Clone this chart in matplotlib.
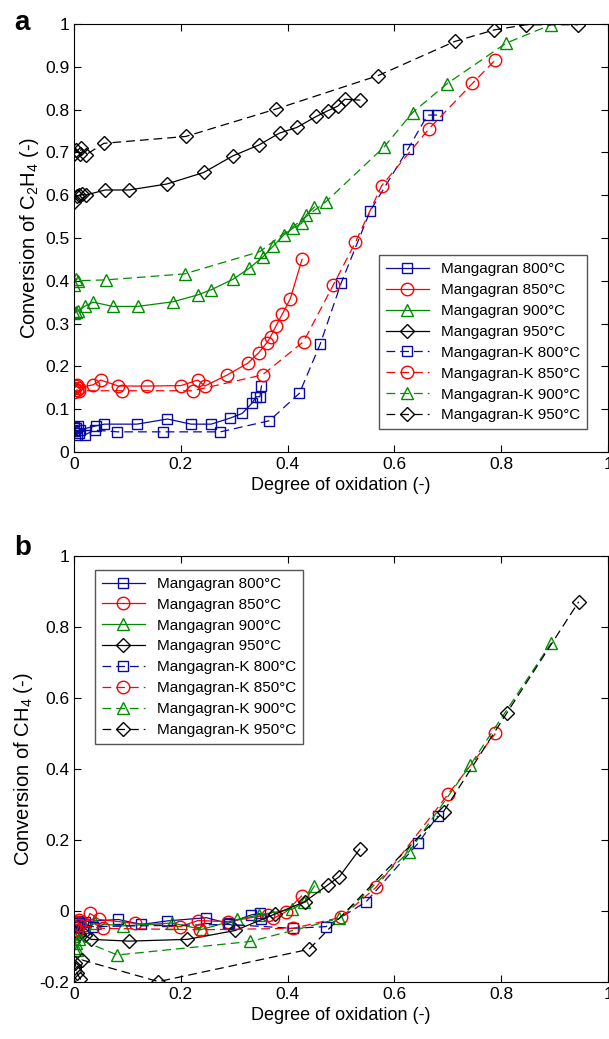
import matplotlib
matplotlib.use('Agg')
import matplotlib.pyplot as plt

plt.rcParams['font.family'] = ['Liberation Sans', 'DejaVu Sans']
plt.rcParams['mathtext.fontset'] = 'custom'
plt.rcParams['mathtext.rm'] = 'Liberation Sans'
plt.rcParams['mathtext.it'] = 'Liberation Sans'

# ---- panel a : conversion of C2H4 ----
a_m800_x = [0.0, 0.004, 0.008, 0.012, 0.041, 0.057, 0.118, 0.175, 0.219, 0.257, 0.292, 0.315, 0.334, 0.341, 0.348, 0.351]
a_m800_y = [0.059, 0.055, 0.06, 0.052, 0.061, 0.065, 0.065, 0.077, 0.065, 0.065, 0.079, 0.090, 0.115, 0.129, 0.129, 0.154]
a_m850_x = [0.0, 0.003, 0.006, 0.01, 0.036, 0.050, 0.083, 0.137, 0.200, 0.232, 0.245, 0.287, 0.325, 0.346, 0.361, 0.368, 0.378, 0.390, 0.405, 0.427]
a_m850_y = [0.15, 0.155, 0.157, 0.15, 0.157, 0.168, 0.154, 0.154, 0.155, 0.168, 0.154, 0.180, 0.207, 0.232, 0.255, 0.269, 0.294, 0.322, 0.358, 0.450]
a_m900_x = [0.0, 0.004, 0.008, 0.021, 0.036, 0.073, 0.119, 0.186, 0.232, 0.257, 0.297, 0.328, 0.354, 0.373, 0.393, 0.410, 0.426, 0.435, 0.450]
a_m900_y = [0.325, 0.328, 0.33, 0.341, 0.35, 0.34, 0.34, 0.351, 0.367, 0.379, 0.403, 0.429, 0.456, 0.481, 0.507, 0.523, 0.534, 0.554, 0.572]
a_m950_x = [0.0, 0.005, 0.01, 0.015, 0.022, 0.058, 0.103, 0.174, 0.243, 0.298, 0.346, 0.385, 0.417, 0.454, 0.475, 0.494, 0.507, 0.535]
a_m950_y = [0.585, 0.597, 0.600, 0.602, 0.600, 0.612, 0.612, 0.626, 0.653, 0.692, 0.717, 0.745, 0.758, 0.784, 0.797, 0.808, 0.824, 0.822]
a_k800_x = [0.0, 0.005, 0.01, 0.02, 0.039, 0.081, 0.167, 0.274, 0.366, 0.422, 0.461, 0.500, 0.555, 0.625, 0.662, 0.680]
a_k800_y = [0.05, 0.04, 0.045, 0.04, 0.051, 0.047, 0.047, 0.047, 0.073, 0.137, 0.252, 0.394, 0.564, 0.707, 0.787, 0.787]
a_k850_x = [0.0, 0.005, 0.01, 0.089, 0.222, 0.353, 0.430, 0.485, 0.527, 0.576, 0.664, 0.746, 0.789]
a_k850_y = [0.14, 0.145, 0.143, 0.143, 0.143, 0.180, 0.258, 0.389, 0.490, 0.622, 0.754, 0.861, 0.916]
a_k900_x = [0.0, 0.003, 0.008, 0.06, 0.207, 0.348, 0.472, 0.581, 0.634, 0.698, 0.809, 0.893]
a_k900_y = [0.39, 0.405, 0.40, 0.402, 0.416, 0.468, 0.585, 0.713, 0.793, 0.860, 0.955, 0.998]
a_k950_x = [0.0, 0.003, 0.011, 0.014, 0.022, 0.056, 0.209, 0.378, 0.569, 0.713, 0.787, 0.846, 0.944]
a_k950_y = [0.696, 0.706, 0.696, 0.71, 0.694, 0.721, 0.737, 0.801, 0.879, 0.959, 0.986, 0.998, 0.998]

# ---- panel b : conversion of CH4 ----
b_m800_x = [0.0, 0.005, 0.01, 0.02, 0.083, 0.126, 0.175, 0.248, 0.288, 0.332, 0.348, 0.351]
b_m800_y = [-0.03, -0.028, -0.032, -0.03, -0.024, -0.038, -0.028, -0.019, -0.035, -0.011, -0.007, -0.024]
b_m850_x = [0.0, 0.005, 0.01, 0.02, 0.03, 0.047, 0.114, 0.199, 0.232, 0.288, 0.363, 0.373, 0.397, 0.426]
b_m850_y = [-0.035, -0.03, -0.025, -0.04, -0.007, -0.024, -0.035, -0.044, -0.027, -0.030, -0.011, -0.021, -0.002, 0.042]
b_m900_x = [0.0, 0.005, 0.01, 0.02, 0.04, 0.091, 0.184, 0.239, 0.306, 0.347, 0.409, 0.431, 0.450]
b_m900_y = [-0.07, -0.06, -0.055, -0.045, -0.035, -0.042, -0.034, -0.052, -0.024, -0.011, 0.005, 0.025, 0.07]
b_m950_x = [0.0, 0.01, 0.021, 0.032, 0.103, 0.212, 0.302, 0.376, 0.432, 0.475, 0.497, 0.535]
b_m950_y = [-0.06, -0.065, -0.068, -0.08, -0.085, -0.080, -0.055, -0.009, 0.026, 0.073, 0.097, 0.174]
b_k800_x = [0.0, 0.005, 0.01, 0.036, 0.290, 0.410, 0.472, 0.547, 0.645, 0.681]
b_k800_y = [-0.04, -0.045, -0.035, -0.044, -0.038, -0.049, -0.044, 0.026, 0.192, 0.268]
b_k850_x = [0.0, 0.005, 0.01, 0.055, 0.236, 0.410, 0.500, 0.566, 0.701, 0.789]
b_k850_y = [-0.045, -0.055, -0.04, -0.049, -0.053, -0.049, -0.018, 0.067, 0.330, 0.500]
b_k900_x = [0.0, 0.003, 0.006, 0.01, 0.081, 0.330, 0.497, 0.627, 0.742, 0.893]
b_k900_y = [-0.105, -0.09, -0.11, -0.08, -0.124, -0.086, -0.021, 0.167, 0.411, 0.754]
b_k950_x = [0.0, 0.002, 0.006, 0.012, 0.015, 0.158, 0.440, 0.692, 0.811, 0.945]
b_k950_y = [-0.161, -0.147, -0.176, -0.192, -0.138, -0.199, -0.108, 0.28, 0.559, 0.871]

labels = ['Mangagran 800°C', 'Mangagran 850°C', 'Mangagran 900°C', 'Mangagran 950°C',
          'Mangagran-K 800°C', 'Mangagran-K 850°C', 'Mangagran-K 900°C', 'Mangagran-K 950°C']
colors = ['#0a0aa5', '#ff0000', '#008c00', '#000000']
markers = ['s', 'o', '^', 'D']
msizes = [6.5, 9, 9, 7.5]

a_series = [(a_m800_x, a_m800_y), (a_m850_x, a_m850_y), (a_m900_x, a_m900_y), (a_m950_x, a_m950_y),
            (a_k800_x, a_k800_y), (a_k850_x, a_k850_y), (a_k900_x, a_k900_y), (a_k950_x, a_k950_y)]
b_series = [(b_m800_x, b_m800_y), (b_m850_x, b_m850_y), (b_m900_x, b_m900_y), (b_m950_x, b_m950_y),
            (b_k800_x, b_k800_y), (b_k850_x, b_k850_y), (b_k900_x, b_k900_y), (b_k950_x, b_k950_y)]


def draw(ax, series):
    for i, (xs, ys) in enumerate(series):
        j = i % 4
        ls = '-' if i < 4 else (0, (7, 4))
        ax.plot(xs, ys, linestyle=ls, color=colors[j], marker=markers[j], markersize=msizes[j],
                markerfacecolor='none', markeredgecolor=colors[j], markeredgewidth=1.0,
                linewidth=0.9, label=labels[i])
    ax.set_xlim(0, 1)
    ax.tick_params(direction='in', top=True, right=True, labelsize=12.5, length=5, width=0.8)
    ax.set_xticks([0, 0.2, 0.4, 0.6, 0.8, 1])
    ax.set_xticklabels(['0', '0.2', '0.4', '0.6', '0.8', '1'])
    for s in ax.spines.values():
        s.set_linewidth(0.8)
    ax.set_xlabel('Degree of oxidation (-)', fontsize=13, labelpad=4)


fig = plt.figure(figsize=(6.09, 10.39), dpi=100)

ax1 = fig.add_axes([0.1215, 0.565, 0.877, 0.412])
draw(ax1, a_series)
ax1.set_ylim(0, 1)
ax1.set_yticks([0, 0.1, 0.2, 0.3, 0.4, 0.5, 0.6, 0.7, 0.8, 0.9, 1])
ax1.set_yticklabels(['0', '0.1', '0.2', '0.3', '0.4', '0.5', '0.6', '0.7', '0.8', '0.9', '1'])
ax1.set_ylabel('Conversion of C$_2$H$_4$ (-)', fontsize=14.5, labelpad=3)
ax1.legend(loc='lower right', bbox_to_anchor=(0.975, 0.035), fontsize=11, frameon=True, fancybox=False,
           edgecolor='#555555', framealpha=1, handlelength=2.8, borderpad=0.45, labelspacing=0.45)

ax2 = fig.add_axes([0.1215, 0.0549, 0.877, 0.41])
draw(ax2, b_series)
ax2.set_ylim(-0.2, 1)
ax2.set_yticks([-0.2, 0, 0.2, 0.4, 0.6, 0.8, 1])
ax2.set_yticklabels(['-0.2', '0', '0.2', '0.4', '0.6', '0.8', '1'])
ax2.set_ylabel('Conversion of CH$_4$ (-)', fontsize=14.5, labelpad=3)
ax2.legend(loc='upper left', bbox_to_anchor=(0.025, 0.985), fontsize=11, frameon=True, fancybox=False,
           edgecolor='#555555', framealpha=1, handlelength=2.8, borderpad=0.45, labelspacing=0.45)

fig.text(0.023, 0.978, 'a', fontsize=20, fontweight='bold', va='center')
fig.text(0.023, 0.473, 'b', fontsize=20, fontweight='bold', va='center')

fig.savefig('out.png', dpi=100)
